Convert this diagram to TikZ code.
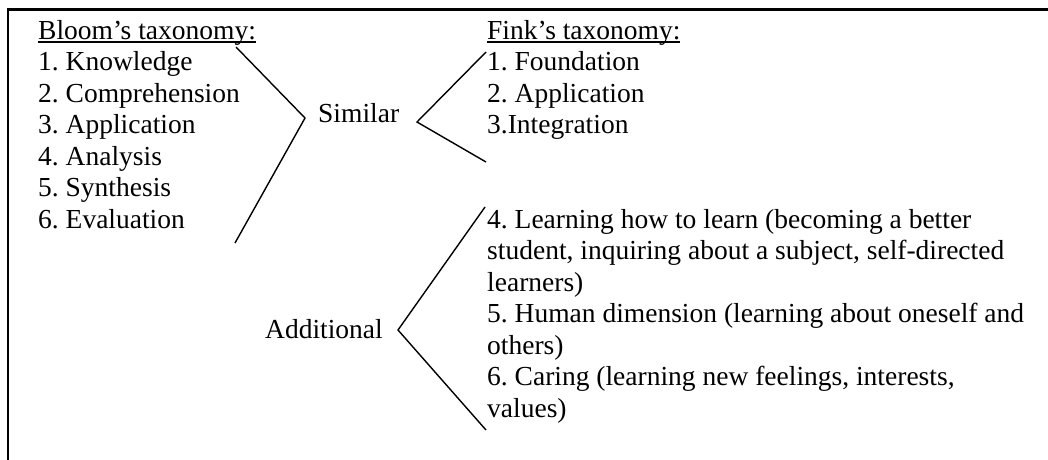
\documentclass[tikz,border=0pt]{standalone}
\usepackage{fontspec}
\setmainfont{Liberation Serif}
\newcommand\myul[1]{\leavevmode\setbox0\hbox{#1}\rlap{\rule[-3.6pt]{\wd0}{1.4pt}}\box0}
\begin{document}
\frenchspacing
\begin{tikzpicture}[x=1pt,y=-1pt,
  txt/.style={font=\fontsize{27.5}{31.5}\selectfont\frenchspacing, inner sep=0pt, anchor=base west},
  brk/.style={line width=1.4pt, line join=miter},
  frame/.style={line width=2.7pt}]
\useasboundingbox (0,0) rectangle (1048,459);
% frame (only top and left edges are visible)
\coordinate (fTR) at (1050,9.5);
\coordinate (fTL) at (8,9.5);
\coordinate (fBL) at (8,461);
\draw[frame] (fTR) -- (fTL) -- (fBL);
% texts
\node[txt] (bloom) at (38,39) {\begin{tabular}[t]{@{}l@{}}\myul{Bloom’s taxonomy:}\\1. Knowledge\\2. Comprehension\\3. Application\\4. Analysis\\5. Synthesis\\6. Evaluation\end{tabular}};
\node[txt] (fink) at (487,39) {\begin{tabular}[t]{@{}l@{}}\myul{Fink’s taxonomy:}\\1. Foundation\\2. Application\\3.Integration\end{tabular}};
\node[txt] (similar) at (318,122) {Similar};
\node[txt] (additional) at (265,338) {Additional};
\node[txt] (extra) at (487,228) {\begin{tabular}[t]{@{}l@{}}4. Learning how to learn (becoming a better\\student, inquiring about a subject, self-directed\\learners)\\5. Human dimension (learning about oneself and\\others)\\6. Caring (learning new feelings, interests,\\values)\end{tabular}};
% bracket points
\coordinate (b1) at (236,47);
\coordinate (b2) at (305,118);
\coordinate (b3) at (235,243);
\coordinate (s1) at (486,52);
\coordinate (s2) at (417,122);
\coordinate (s3) at (486,162);
\coordinate (a1) at (485,207);
\coordinate (a2) at (398,330);
\coordinate (a3) at (486,430);
\draw[brk] (b1) -- (b2) -- (b3);
\draw[brk] (s1) -- (s2) -- (s3);
\draw[brk] (a1) -- (a2) -- (a3);
\end{tikzpicture}
\end{document}
